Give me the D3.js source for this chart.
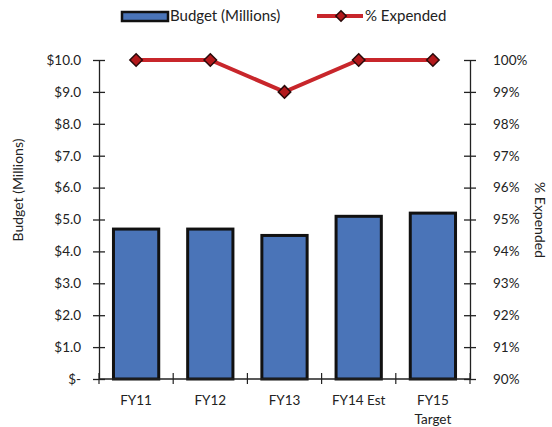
<!DOCTYPE html>
<html>
<head>
<meta charset="utf-8">
<script src="https://cdn.jsdelivr.net/npm/d3@7"></script>
<style>
  html, body { margin: 0; padding: 0; background: #fff; }
  svg { display: block; }
  text { font-family: Lato, "Open Sans", sans-serif; fill: #222; }
</style>
</head>
<body>
<svg id="chart" width="552" height="427"></svg>
<script>
const categories = ["FY11", "FY12", "FY13", "FY14 Est", "FY15\nTarget"];
const budget = [4.7, 4.7, 4.5, 5.1, 5.2];
const expended = [1.00, 1.00, 0.99, 1.00, 1.00];
const leftTicks = [0, 1, 2, 3, 4, 5, 6, 7, 8, 9, 10];
const rightTicks = [0.90, 0.91, 0.92, 0.93, 0.94, 0.95, 0.96, 0.97, 0.98, 0.99, 1.00];

const svg = d3.select("#chart");
const m = { left: 99, right: 470, top: 60, bottom: 379 };

const x = d3.scaleBand().domain(categories).range([m.left, m.right])
  .paddingInner(0.39).paddingOuter(0.195);
const y = d3.scaleLinear().domain([0, 10]).range([m.bottom, m.top]);
const y2 = d3.scaleLinear().domain([0.9, 1.0]).range([m.bottom, m.top]);

const barFill = "#4a74b8";
const lineCol = "#c8262b";

// bars
svg.append("g").selectAll("rect").data(budget).join("rect")
  .attr("x", (d, i) => x(categories[i]))
  .attr("y", d => y(d))
  .attr("width", x.bandwidth())
  .attr("height", d => y(0) - y(d))
  .attr("fill", barFill)
  .attr("stroke", "#111")
  .attr("stroke-width", 3);

// left axis
const fmtL = d => d === 0 ? "$-" : "$" + d3.format(".1f")(d);
const gL = svg.append("g").attr("transform", `translate(${m.left},0)`)
  .call(d3.axisLeft(y).tickValues(leftTicks).tickFormat(fmtL).tickSizeInner(6).tickSizeOuter(0).tickPadding(18));
gL.selectAll(".tick line").attr("x2", 6).attr("x1", -6);
gL.selectAll("line, path").attr("stroke", "#222").attr("stroke-width", 1.3);
gL.selectAll("text").style("font-size", "13.5px").attr("x", -18);

// right axis
const gR = svg.append("g").attr("transform", `translate(${m.right},0)`)
  .call(d3.axisRight(y2).tickValues(rightTicks).tickFormat(d3.format(".0%")).tickSizeInner(6).tickSizeOuter(0).tickPadding(17));
gR.selectAll(".tick line").attr("x1", -6).attr("x2", 6);
gR.selectAll("line, path").attr("stroke", "#222").attr("stroke-width", 1.3);
gR.selectAll("text").style("font-size", "13.5px");

// bottom axis with boundary ticks
const gB = svg.append("g").attr("transform", `translate(0,${m.bottom})`);
gB.append("line").attr("x1", m.left).attr("x2", m.right).attr("stroke", "#222").attr("stroke-width", 1.3);
const bounds = d3.range(categories.length + 1).map(i => x.range()[0] + i * x.step());
gB.selectAll("line.tk").data(bounds).join("line").attr("class", "tk")
  .attr("x1", d => d).attr("x2", d => d).attr("y1", -6).attr("y2", 5)
  .attr("stroke", "#222").attr("stroke-width", 1.2);
const lbl = gB.selectAll("text").data(categories).join("text")
  .attr("text-anchor", "middle")
  .attr("x", d => x(d) + x.bandwidth() / 2)
  .attr("y", 26)
  .style("font-size", "13.5px");
lbl.each(function(d) {
  const parts = d.split("\n");
  const t = d3.select(this);
  parts.forEach((p, j) => {
    t.append("tspan").attr("x", x(d) + x.bandwidth() / 2).attr("dy", j === 0 ? 0 : 19).text(p);
  });
});

// line
const line = d3.line().x((d, i) => x(categories[i]) + x.bandwidth() / 2).y(d => y2(d));
svg.append("path").datum(expended).attr("d", line)
  .attr("fill", "none").attr("stroke", lineCol).attr("stroke-width", 4);
const diamond = d3.symbol().type(d3.symbolDiamond2).size(100);
svg.append("g").selectAll("path").data(expended).join("path")
  .attr("d", diamond)
  .attr("transform", (d, i) => `translate(${x(categories[i]) + x.bandwidth() / 2},${y2(d)})`)
  .attr("fill", "#b3191c").attr("stroke", "#2a0a0a").attr("stroke-width", 1.5);

// axis titles
svg.append("text").attr("transform", "translate(23,190) rotate(-90)")
  .attr("text-anchor", "middle").style("font-size", "14px").text("Budget (Millions)");
svg.append("text").attr("transform", "translate(535,220) rotate(90)")
  .attr("text-anchor", "middle").style("font-size", "14px").text("% Expended");

// legend
const lg = svg.append("g");
lg.append("rect").attr("x", 122).attr("y", 12).attr("width", 46).attr("height", 9)
  .attr("fill", barFill).attr("stroke", "#111").attr("stroke-width", 2.5);
lg.append("text").attr("x", 170).attr("y", 21).style("font-size", "15px").text("Budget (Millions)");
lg.append("line").attr("x1", 317).attr("x2", 363).attr("y1", 16).attr("y2", 16)
  .attr("stroke", lineCol).attr("stroke-width", 4);
lg.append("path").attr("d", d3.symbol().type(d3.symbolDiamond2).size(70))
  .attr("transform", "translate(341,16)")
  .attr("fill", "#b3191c").attr("stroke", "#2a0a0a").attr("stroke-width", 1.5);
lg.append("text").attr("x", 365).attr("y", 21).style("font-size", "15px").text("% Expended");
</script>
</body>
</html>
